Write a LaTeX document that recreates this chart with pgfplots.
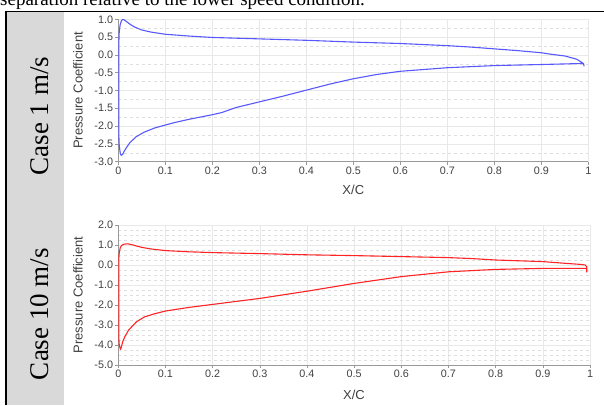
\documentclass[border=0pt]{standalone}
\usepackage{pgfplots}
\pgfplotsset{compat=1.18}
\usepackage{fontspec}
\setmainfont{Liberation Serif}
\newfontfamily\sans{Liberation Sans}
\definecolor{cpblue}{RGB}{88,88,255}
\definecolor{cpred}{RGB}{255,35,35}

\pgfplotstableread{
x cp
0.991 -0.32
0.990 -0.25
0.985 -0.20
0.975 -0.12
0.950 -0.03
0.920  0.02
0.900  0.06
0.850  0.12
0.800  0.17
0.750  0.22
0.700  0.26
0.600  0.32
0.500  0.36
0.400  0.41
0.300  0.45
0.200  0.49
0.150  0.53
0.100  0.58
0.070  0.64
0.050  0.70
0.035  0.78
0.025  0.86
0.018  0.93
0.013  0.98
0.010  1.00
0.007  0.97
0.004  0.85
0.002  0.65
0.001  0.30
0.001 -0.50
0.001 -1.50
0.001 -2.20
0.002 -2.55
0.004 -2.75
0.006 -2.82
0.009 -2.80
0.012 -2.72
0.018 -2.59
0.025 -2.46
0.038 -2.30
0.055 -2.17
0.078 -2.05
0.100 -1.97
0.120 -1.90
0.150 -1.81
0.200 -1.68
0.220 -1.62
0.250 -1.48
0.300 -1.32
0.350 -1.16
0.400 -0.99
0.450 -0.82
0.500 -0.67
0.550 -0.55
0.600 -0.46
0.700 -0.36
0.800 -0.30
0.900 -0.27
0.990 -0.24
}\caseone

\pgfplotstableread{
x cp
0.993 -0.37
0.993 -0.10
0.990  0.00
0.980  0.03
0.950  0.08
0.900  0.17
0.850  0.21
0.800  0.25
0.750  0.32
0.700  0.37
0.600  0.42
0.500  0.47
0.400  0.51
0.300  0.57
0.200  0.62
0.150  0.66
0.100  0.72
0.070  0.80
0.050  0.88
0.040  0.94
0.030  1.01
0.020  1.06
0.012  1.04
0.007  0.98
0.004  0.85
0.002  0.60
0.001  0.30
0.001 -1.00
0.001 -2.50
0.001 -3.60
0.002 -4.00
0.004 -4.18
0.005 -4.22
0.007 -4.05
0.010 -3.80
0.014 -3.58
0.022 -3.25
0.038 -2.85
0.055 -2.60
0.075 -2.45
0.100 -2.30
0.150 -2.12
0.200 -1.97
0.300 -1.67
0.400 -1.31
0.500 -0.92
0.600 -0.58
0.700 -0.34
0.800 -0.22
0.900 -0.17
0.993 -0.17
}\caseten

\pgfplotsset{
  cpstyle/.style={
    scale only axis,
    axis lines*=left,
    axis line style={black!40, line width=0.8pt},
    tick align=outside,
    major tick length=3pt,
    minor tick length=0pt,
    tick style={black!40, line width=0.6pt},
    xmin=0, xmax=1,
    xtick={0,0.1,0.2,0.3,0.4,0.5,0.6,0.7,0.8,0.9,1},
    xticklabels={0,0.1,0.2,0.3,0.4,0.5,0.6,0.7,0.8,0.9,1},
    minor x tick num=0,
    grid=both,
    major grid style={black!9, line width=0.6pt},
    minor grid style={black!13, dashed, line width=0.5pt},
    ticklabel style={font=\sans\fontsize{10.8}{12}\selectfont, text=black!75},
    yticklabel style={inner sep=2pt},
    xticklabel style={inner sep=2pt},
  }
}

\begin{document}
\begin{tikzpicture}[x=1pt,y=1pt]
\useasboundingbox (0,0) rectangle (604,405);
\clip (0,0) rectangle (604,405);

% sentence cut off at the top
\node[anchor=base west, inner sep=0, font=\fontsize{19}{22}\selectfont] at (0,399.5) {separation relative to the lower speed condition.};

% table cell and borders
\fill[black!15] (7,0) rectangle (64,392.5);
\draw[line width=1pt] (5,393) -- (604,393);
\draw[line width=1.6pt] (604,393.3) -- (596,393.3);
\draw[line width=2pt] (6,0) -- (6,393.5);

\node[rotate=90, font=\fontsize{27}{30}\selectfont] at (40,289) {Case 1 m/s};
\node[rotate=90, font=\fontsize{27}{30}\selectfont] at (40,91) {Case 10 m/s};

% top chart
\begin{axis}[cpstyle,
  at={(118.3pt,243.3pt)}, anchor=south west,
  width=470pt, height=142.4pt,
  ymin=-3, ymax=1,
  ytick={-3,-2.5,-2,-1.5,-1,-0.5,0,0.5,1},
  yticklabels={-3.0,-2.5,-2.0,-1.5,-1.0,-0.5,0.0,0.5,1.0},
  minor y tick num=1]
\addplot[color=cpblue, line width=1.1pt, line join=round, no markers] table[x=x,y=cp] {\caseone};
\end{axis}

% bottom chart
\begin{axis}[cpstyle,
  at={(118.3pt,40pt)}, anchor=south west,
  width=471.7pt, height=140pt,
  ymin=-5, ymax=2,
  ytick={-5,-4,-3,-2,-1,0,1,2},
  yticklabels={-5.0,-4.0,-3.0,-2.0,-1.0,0.0,1.0,2.0},
  minor y tick num=3]
\addplot[color=cpred, line width=1.1pt, line join=round, no markers] table[x=x,y=cp] {\caseten};
\end{axis}

% axis titles
\node[rotate=90, font=\sans\fontsize{13}{14}\selectfont, text=black!75] at (78,314.5) {Pressure Coefficient};
\node[font=\sans\fontsize{13}{14}\selectfont, text=black!75] at (353.3,215) {X/C};
\node[rotate=90, font=\sans\fontsize{13}{14}\selectfont, text=black!75] at (78,110) {Pressure Coefficient};
\node[font=\sans\fontsize{13}{14}\selectfont, text=black!75] at (354,10) {X/C};
\end{tikzpicture}
\end{document}
